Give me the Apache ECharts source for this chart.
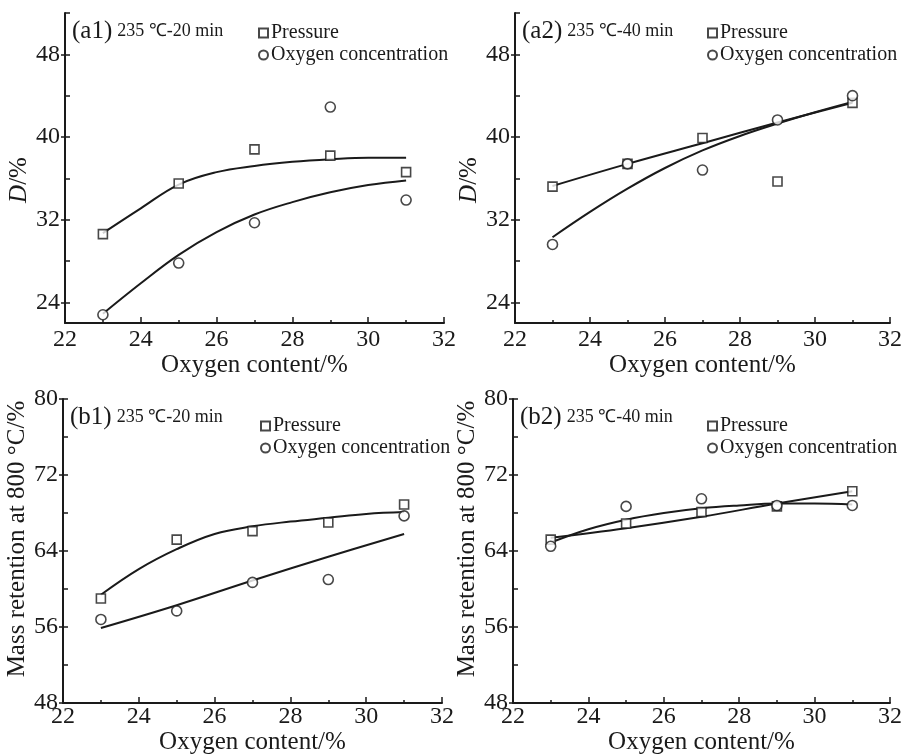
<!DOCTYPE html>
<html lang="en">

<head>
    <meta charset="UTF-8">
    <script src="https://cdn.jsdelivr.net/npm/echarts@6/dist/echarts.min.js"></script>
    <title>Oxygen content</title>
    <style>
        html, body { margin: 0; padding: 0; background: #fff; }
        #main { width: 905px; height: 756px; }
    </style>
</head>

<body>
    <div id="main"></div>

    <script>
        // x values of the measured points
        var oxygenContent = [23, 25, 27, 29, 31];
        var fitX = [23, 24, 25, 26, 27, 28, 29, 30, 31];
        var fitX5 = [23, 25, 27, 29, 31];

        // (a1) 235 ℃-20 min, D/%
        var a1Pressure = [30.6, 35.5, 38.8, 38.2, 36.6];
        var a1Oxygen = [22.8, 27.8, 31.7, 42.9, 33.9];
        var a1PressureFit = [30.7, 33.1, 35.4, 36.6, 37.2, 37.6, 37.85, 38.0, 38.0];
        var a1OxygenFit = [22.9, 25.85, 28.6, 30.8, 32.5, 33.7, 34.65, 35.35, 35.8];

        // (a2) 235 ℃-40 min, D/%
        var a2Pressure = [35.2, 37.4, 39.9, 35.7, 43.3];
        var a2Oxygen = [29.6, 37.4, 36.8, 41.65, 44.0];
        var a2PressureFit = [35.26, 37.4, 39.4, 41.4, 43.3];
        var a2OxygenFit = [30.3, 32.75, 35.0, 37.0, 38.7, 40.1, 41.3, 42.4, 43.4];

        // (b1) 235 ℃-20 min, mass retention
        var b1Pressure = [59.0, 65.2, 66.1, 67.0, 68.9];
        var b1Oxygen = [56.8, 57.7, 60.7, 61.0, 67.7];
        var b1PressureFit = [59.4, 62.1, 64.2, 65.8, 66.6, 67.1, 67.5, 67.9, 68.1];
        var b1OxygenFit = [55.9, 58.3, 60.9, 63.4, 65.8];

        // (b2) 235 ℃-40 min, mass retention
        var b2Pressure = [65.2, 66.9, 68.1, 68.7, 70.3];
        var b2Oxygen = [64.5, 68.7, 69.5, 68.8, 68.8];
        var b2PressureFit = [65.4, 66.4, 67.6, 69.0, 70.3];
        var b2OxygenFit = [64.9, 66.3, 67.3, 68.0, 68.5, 68.8, 69.0, 69.0, 68.9];

        // tick labels
        var dMajor = [24, 32, 40, 48];
        var dMinor = [28, 36, 44, 52];
        var mMajor = [48, 56, 64, 72, 80];
        var mMinor = [52, 60, 68, 76, 80];

        var FONT = "'Liberation Serif', 'Times New Roman', serif";
        var INK = '#1a1a1a';

        function pairs(xs, ys) {
            return xs.map(function (x, i) { return [x, ys[i]]; });
        }

        var panels = [
            { tag: '(a1)', cond: '235 ℃-20 min', grid: { left: 65, top: 13 }, yMin: 22, yMax: 52,
              major: dMajor, minor: dMinor, name: '{i|D}/%', nameGap: 24, namePad: [0, 24, 0, 0],
              labelMargin: 5, xNameGap: 26,
              p: a1Pressure, o: a1Oxygen, pf: pairs(fitX, a1PressureFit), of: pairs(fitX, a1OxygenFit),
              legend: { left: 253, top: 18 } },
            { tag: '(a2)', cond: '235 ℃-40 min', grid: { left: 515, top: 13 }, yMin: 22, yMax: 52,
              major: dMajor, minor: dMinor, name: '{i|D}/%', nameGap: 24, namePad: [0, 24, 0, 0],
              labelMargin: 5, xNameGap: 26,
              p: a2Pressure, o: a2Oxygen, pf: pairs(fitX5, a2PressureFit), of: pairs(fitX, a2OxygenFit),
              legend: { left: 702, top: 18 } },
            { tag: '(b1)', cond: '235 ℃-20 min', grid: { left: 63, top: 399 }, yMin: 48, yMax: 80,
              major: mMajor, minor: mMinor, name: 'Mass retention at 800 °C/%', nameGap: 30, namePad: [0, 0, 0, 24],
              labelMargin: 2, xNameGap: 22,
              p: b1Pressure, o: b1Oxygen, pf: pairs(fitX, b1PressureFit), of: pairs(fitX5, b1OxygenFit),
              legend: { left: 255, top: 411 } },
            { tag: '(b2)', cond: '235 ℃-40 min', grid: { left: 513, top: 399 }, yMin: 48, yMax: 80,
              major: mMajor, minor: mMinor, name: 'Mass retention at 800 °C/%', nameGap: 30, namePad: [0, 0, 0, 24],
              labelMargin: 2, xNameGap: 22,
              p: b2Pressure, o: b2Oxygen, pf: pairs(fitX5, b2PressureFit), of: pairs(fitX, b2OxygenFit),
              legend: { left: 702, top: 411 } }
        ];

        var option = {
            animation: false,
            backgroundColor: '#fff',
            title: [], legend: [], grid: [], xAxis: [], yAxis: [], series: []
        };

        panels.forEach(function (pn, k) {
            option.grid.push({ left: pn.grid.left, top: pn.grid.top, width: 379, height: 310 });

            option.title.push({
                left: pn.grid.left + 2, top: pn.grid.top + 1,
                text: '{p|' + pn.tag + '} {s|' + pn.cond + '}',
                textStyle: {
                    fontWeight: 'normal',
                    rich: {
                        p: { fontSize: 25, fontFamily: FONT, fontWeight: 'normal', color: INK },
                        s: { fontSize: 18, fontFamily: FONT, fontWeight: 'normal', color: INK }
                    }
                }
            });

            option.legend.push({
                left: pn.legend.left, top: pn.legend.top, orient: 'vertical',
                itemWidth: 9, itemHeight: 9, itemGap: 2,
                selectedMode: false,
                data: ['Pressure', 'Oxygen concentration'],
                textStyle: { fontSize: 20, fontFamily: FONT, color: INK, padding: [0, 0, 0, -2] }
            });

            option.xAxis.push({
                type: 'value', gridIndex: k, min: 22, max: 32, interval: 2,
                name: 'Oxygen content/%', nameLocation: 'middle', nameGap: pn.xNameGap,
                nameTextStyle: { fontSize: 25, fontFamily: FONT, color: INK },
                axisLine: { lineStyle: { color: INK, width: 2 } },
                axisTick: { inside: true, length: 6, lineStyle: { color: INK, width: 1.5 } },
                minorTick: { show: true, splitNumber: 2, length: 3, lineStyle: { color: INK, width: 1.5 } },
                splitLine: { show: false },
                axisLabel: { fontSize: 24, fontFamily: FONT, color: INK, margin: pn.labelMargin }
            });

            // labelled axis with outward major ticks
            option.yAxis.push({
                type: 'value', gridIndex: k, position: 'left', min: pn.yMin, max: pn.yMax,
                name: pn.name, nameLocation: 'middle', nameGap: pn.nameGap,
                nameTextStyle: {
                    fontSize: 25, fontFamily: FONT, color: INK, padding: pn.namePad,
                    rich: { i: { fontSize: 25, fontFamily: FONT, fontStyle: 'italic', color: INK } }
                },
                axisLine: { show: true, lineStyle: { color: INK, width: 2 } },
                axisTick: { show: true, inside: false, length: 4, customValues: pn.major,
                            lineStyle: { color: INK, width: 1.5 } },
                splitLine: { show: false },
                axisLabel: { customValues: pn.major, fontSize: 24, fontFamily: FONT, color: INK, margin: 5 }
            });
            // inward ticks (and the little cap at the top)
            option.yAxis.push({
                type: 'value', gridIndex: k, position: 'left', offset: 0, min: pn.yMin, max: pn.yMax,
                axisLine: { show: false },
                axisTick: { show: true, inside: true, length: 5,
                            customValues: pn.minor.concat(pn.major), lineStyle: { color: INK, width: 1.5 } },
                axisLabel: { show: false },
                splitLine: { show: false }
            });

            var marker = { color: '#fff', borderColor: INK, borderWidth: 1.6 };
            option.series.push({
                name: 'Pressure fit', type: 'line', xAxisIndex: k, yAxisIndex: 2 * k,
                data: pn.pf, smooth: 0.4, symbol: 'none', z: 2,
                lineStyle: { color: INK, width: 2 }
            });
            option.series.push({
                name: 'Oxygen fit', type: 'line', xAxisIndex: k, yAxisIndex: 2 * k,
                data: pn.of, smooth: 0.4, symbol: 'none', z: 2,
                lineStyle: { color: INK, width: 2 }
            });
            option.series.push({
                name: 'Pressure', type: 'scatter', xAxisIndex: k, yAxisIndex: 2 * k,
                data: pairs(oxygenContent, pn.p), symbol: 'rect', symbolSize: 9, z: 3,
                itemStyle: marker
            });
            option.series.push({
                name: 'Oxygen concentration', type: 'scatter', xAxisIndex: k, yAxisIndex: 2 * k,
                data: pairs(oxygenContent, pn.o), symbol: 'circle', symbolSize: 10, z: 3,
                itemStyle: marker
            });
        });

        var myChart = echarts.init(document.getElementById('main'));
        myChart.setOption(option);
    </script>

</body>

</html>
